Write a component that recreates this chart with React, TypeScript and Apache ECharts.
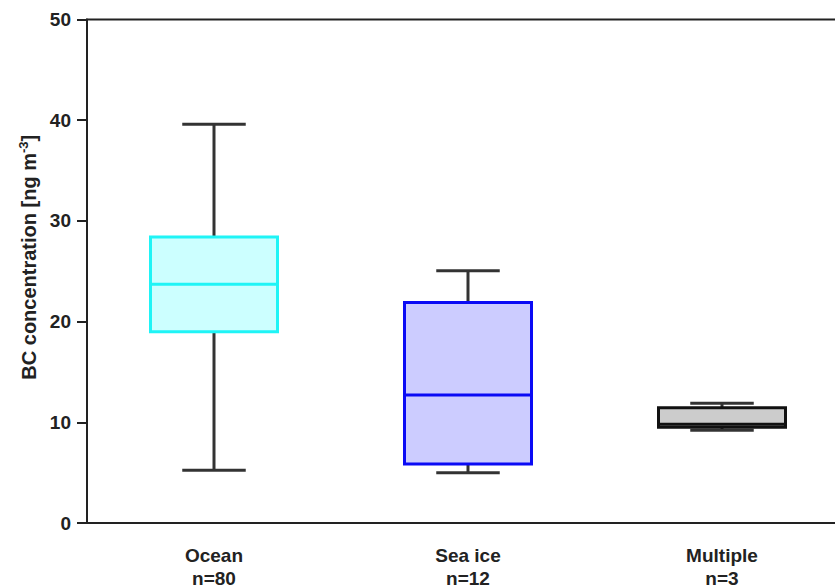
import React, { useEffect, useRef } from "react";
import * as echarts from "echarts";

const categories = ["Ocean", "Sea ice", "Multiple"];
const sampleSizes = [80, 12, 3];
const mins = [5.25, 5.0, 9.2];
const q1s = [19.0, 5.85, 9.5];
const medians = [23.7, 12.7, 9.8];
const q3s = [28.4, 21.9, 11.45];
const maxs = [39.6, 25.05, 11.9];
const yTicks = [0, 10, 20, 30, 40, 50];

const boxFills = ["#ccffff", "#ccccff", "#cccccc"];
const boxBorders = ["#1ff4f6", "#0a0af5", "#111111"];
const medianColors = ["#1ff4f6", "#0a0af5", "#111111"];

export default function App() {
  const ref = useRef<HTMLDivElement>(null);
  useEffect(() => {
    if (!ref.current) return;
    const chart = echarts.init(ref.current, null, { renderer: "svg" });
    const data = categories.map((_, i) => [i, mins[i], q1s[i], medians[i], q3s[i], maxs[i]]);
    const font = "'Liberation Sans', Arial, sans-serif";
    chart.setOption({
      animation: false,
      grid: {
        left: 87, top: 19.5, width: 762, height: 503.5,
        outerBoundsMode: "none", containLabel: false,
        show: true, borderColor: "#222", borderWidth: 2, backgroundColor: "transparent",
      },
      xAxis: {
        type: "category",
        data: categories.map((c, i) => `${c}\nn=${sampleSizes[i]}`),
        boundaryGap: true,
        axisLine: { lineStyle: { color: "#222", width: 2 } },
        axisTick: { alignWithLabel: true, length: 10, lineStyle: { color: "#222", width: 2 } },
        axisLabel: { margin: 21, color: "#222", fontFamily: font, fontWeight: "bold", fontSize: 19, lineHeight: 23 },
        splitLine: { show: false },
      },
      yAxis: {
        type: "value",
        min: yTicks[0],
        max: yTicks[yTicks.length - 1],
        interval: 10,
        name: "BC concentration [ng m{sup|-3}]",
        nameLocation: "middle",
        nameGap: 44,
        nameRotate: 90,
        nameTextStyle: {
          color: "#222", fontFamily: font, fontWeight: "bold", fontSize: 20,
          padding: [0, 0, 0, 28],
          rich: { sup: { fontSize: 13, fontWeight: "bold", fontFamily: font, color: "#222", verticalAlign: "top", padding: [0, 0, 10, 0] } },
        },
        axisLine: { show: true, lineStyle: { color: "#222", width: 2 } },
        axisTick: { show: true, length: 10, lineStyle: { color: "#222", width: 2 } },
        axisLabel: { margin: 16, color: "#222", fontFamily: font, fontWeight: "bold", fontSize: 19 },
        splitLine: { show: false },
      },
      series: [
        {
          type: "custom",
          data,
          encode: { x: 0, y: [1, 2, 3, 4, 5] },
          renderItem: (params: any, api: any) => {
            const i = api.value(0);
            const band = api.size([1, 0])[0];
            const boxW = band * 0.5;
            const capW = band * 0.25;
            const pMin = api.coord([i, api.value(1)]);
            const pQ1 = api.coord([i, api.value(2)]);
            const pMed = api.coord([i, api.value(3)]);
            const pQ3 = api.coord([i, api.value(4)]);
            const pMax = api.coord([i, api.value(5)]);
            const x = pMed[0];
            const wStyle = { stroke: "#333", lineWidth: 3 };
            return {
              type: "group",
              children: [
                { type: "line", shape: { x1: x, y1: pQ3[1], x2: x, y2: pMax[1] }, style: wStyle },
                { type: "line", shape: { x1: x - capW / 2, y1: pMax[1], x2: x + capW / 2, y2: pMax[1] }, style: wStyle },
                { type: "line", shape: { x1: x, y1: pQ1[1], x2: x, y2: pMin[1] }, style: wStyle },
                { type: "line", shape: { x1: x - capW / 2, y1: pMin[1], x2: x + capW / 2, y2: pMin[1] }, style: wStyle },
                {
                  type: "rect",
                  shape: { x: x - boxW / 2, y: pQ3[1], width: boxW, height: pQ1[1] - pQ3[1] },
                  style: { fill: boxFills[i], stroke: boxBorders[i], lineWidth: 3 },
                },
                {
                  type: "line",
                  shape: { x1: x - boxW / 2, y1: pMed[1], x2: x + boxW / 2, y2: pMed[1] },
                  style: { stroke: medianColors[i], lineWidth: 3 },
                },
              ],
            };
          },
        },
      ],
    });
    return () => chart.dispose();
  }, []);
  return <div ref={ref} style={{ position: "absolute", left: 0, top: 0, width: 835, height: 587 }} />;
}
